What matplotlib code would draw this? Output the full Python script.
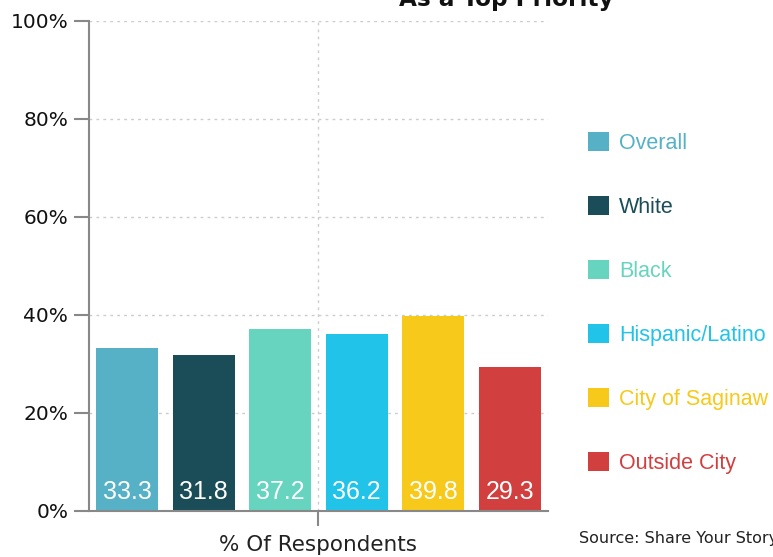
import matplotlib
matplotlib.use("Agg")
from matplotlib import pyplot as plt
from matplotlib.ticker import PercentFormatter

groups = ["Overall", "White", "Black", "Hispanic/Latino", "City of Saginaw", "Outside City"]
values = [33.3, 31.8, 37.2, 36.2, 39.8, 29.3]
colors = ["#56B1C6", "#1A4D57", "#67D4C0", "#22C3E9", "#F7C91A", "#D13F3F"]
y_ticks = [0, 20, 40, 60, 80, 100]
x_title = "% Of Respondents"
title = "As a Top Priority"
source = "Source: Share Your Story"

fig = plt.figure(figsize=(7.73, 5.57), dpi=100)
ax = fig.add_axes([0.1151, 0.0826, 0.5938, 0.8797])

positions = [i + 0.5 for i in range(len(values))]
bars = ax.bar(positions, values, width=0.81, color=colors, label=groups, zorder=2)

for pos, val in zip(positions, values):
    ax.text(pos, 3.9, f"{val}", ha="center", va="center", color="white",
            fontsize=18, family="Liberation Sans", zorder=3)

ax.set_xlim(0, 6)
ax.set_ylim(0, 100)
ax.set_yticks(y_ticks)
ax.yaxis.set_major_formatter(PercentFormatter(decimals=0))
ax.set_xticks([3])
ax.set_xticklabels([""])
ax.set_xlabel(x_title, fontsize=15.5, family="DejaVu Sans", color="#222222", labelpad=2)

ax.grid(True, linestyle=(0, (2, 3)), color="#cccccc", linewidth=1, zorder=0)
for side in ["top", "right"]:
    ax.spines[side].set_visible(False)
for side in ["left", "bottom"]:
    ax.spines[side].set_color("#888888")
    ax.spines[side].set_linewidth(1.5)
ax.tick_params(axis="both", length=11, width=1.5, color="#888888", pad=4)
ax.tick_params(axis="y", labelsize=14.5, labelcolor="#111111")
for lbl in ax.get_yticklabels():
    lbl.set_family("DejaVu Sans")

fig.legend(handles=bars, labels=groups, loc="upper left", bbox_to_anchor=(0.7466, 0.782),
           frameon=False, labelcolor="linecolor", handlelength=1.0,
           handleheight=1.0, handletextpad=0.45, labelspacing=1.95, borderpad=0,
           prop={"family": "Liberation Sans", "size": 15.5})

fig.text(0.655, 1 - 6 / 557, title, ha="center", va="baseline", fontsize=16.7,
         fontweight="bold", family="DejaVu Sans", color="#111111")
fig.text(0.749, 1 - 538 / 557, source, ha="left", va="center", fontsize=11.5,
         family="DejaVu Sans", color="#222222")

fig.savefig("out.png", dpi=100)
